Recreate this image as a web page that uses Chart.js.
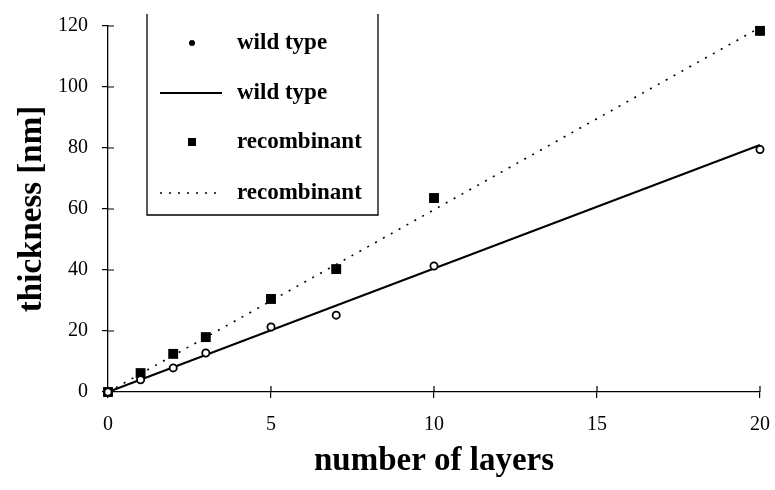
<!DOCTYPE html>
<html>
<head>
<meta charset="utf-8">
<title>thickness vs layers</title>
<script src="https://cdn.jsdelivr.net/npm/chart.js@4.4.1/dist/chart.umd.min.js"></script>
<style>
  html, body { margin: 0; padding: 0; background: #fff; }
  #wrap { width: 775px; height: 490px; }
</style>
</head>
<body>
<div id="wrap"><canvas id="grafico" width="775" height="490"></canvas></div>
<script>
// measured layers and film thickness
const layers = [0, 1, 2, 3, 5, 7, 10, 20];
const wildType = [0, 4, 7.9, 12.8, 21.3, 25.2, 41.3, 79.5];
const recombinant = [0, 6.2, 12.5, 18, 30.5, 40.3, 63.6, 118.4];

// linear fits, evaluated at both ends of the range
const fitLayers = [0, 20];
const wildTypeFit = [0, 81];
const recombinantFit = [0, 119.5];

const xTicks = [0, 5, 10, 15, 20];
const yTicks = [0, 20, 40, 60, 80, 100, 120];

const serif = "'Liberation Serif', 'Times New Roman', serif";

function pares(xs, ys) {
    return xs.map((x, i) => ({ x: x, y: ys[i] }));
}

// small tick marks on the inner side of both axes
const ticksInternos = {
    id: "ticksInternos",
    afterDraw(chart) {
        const ctx = chart.ctx;
        const sx = chart.scales.x;
        const sy = chart.scales.y;
        ctx.save();
        ctx.strokeStyle = "#000";
        ctx.lineWidth = 1.2;
        ctx.beginPath();
        xTicks.forEach(v => {
            if (v === 0) return;
            const px = sx.getPixelForValue(v);
            ctx.moveTo(px, sy.bottom);
            ctx.lineTo(px, sy.bottom - 6);
        });
        yTicks.forEach(v => {
            if (v === 0) return;
            const py = sy.getPixelForValue(v);
            ctx.moveTo(sx.left, py);
            ctx.lineTo(sx.left + 6, py);
        });
        ctx.stroke();
        ctx.restore();
    }
};

// boxed legend inside the plot, one row per dataset
const legendaCaixa = {
    id: "legendaCaixa",
    afterDraw(chart) {
        const ctx = chart.ctx;
        const area = chart.chartArea;
        const x0 = area.left + 39;
        const y0 = area.top - 12;
        const w = 231;
        const h = 201;
        const linhas = [43, 93, 142, 193];

        ctx.save();
        ctx.strokeStyle = "#000";
        ctx.lineWidth = 1.3;
        ctx.beginPath();
        ctx.moveTo(x0, y0);
        ctx.lineTo(x0, y0 + h);
        ctx.lineTo(x0 + w, y0 + h);
        ctx.lineTo(x0 + w, y0);
        ctx.stroke();

        chart.data.datasets.forEach((ds, i) => {
            const cy = linhas[i];
            const cx = x0 + 45;
            if (ds.showLine) {
                ctx.beginPath();
                ctx.lineWidth = ds.borderWidth;
                ctx.setLineDash(ds.borderDash || []);
                ctx.moveTo(x0 + 13, cy);
                ctx.lineTo(x0 + 75, cy);
                ctx.stroke();
                ctx.setLineDash([]);
            } else if (ds.pointStyle === "rect") {
                ctx.fillStyle = "#000";
                ctx.fillRect(cx - 4, cy - 4, 8, 8);
            } else {
                ctx.fillStyle = "#000";
                ctx.beginPath();
                ctx.arc(cx, cy, 3, 0, Math.PI * 2);
                ctx.fill();
            }
            ctx.fillStyle = "#000";
            ctx.font = "bold 23px " + serif;
            ctx.textAlign = "left";
            ctx.textBaseline = "middle";
            ctx.fillText(ds.label, x0 + 90, cy);
        });
        ctx.restore();
    }
};

new Chart(document.getElementById("grafico"), {
    type: "scatter",
    data: {
        datasets: [
            {
                label: "wild type",
                data: pares(layers, wildType),
                pointStyle: "circle",
                pointRadius: 3.6,
                pointBackgroundColor: "#fff",
                pointBorderColor: "#000",
                pointBorderWidth: 1.8,
                showLine: false,
                clip: false
            },
            {
                label: "wild type",
                data: pares(fitLayers, wildTypeFit),
                showLine: true,
                borderColor: "#000",
                borderWidth: 2,
                pointRadius: 0,
                clip: false
            },
            {
                label: "recombinant",
                data: pares(layers, recombinant),
                pointStyle: "rect",
                pointRadius: 7,
                pointBackgroundColor: "#000",
                pointBorderColor: "#000",
                pointBorderWidth: 0,
                showLine: false,
                clip: false
            },
            {
                label: "recombinant",
                data: pares(fitLayers, recombinantFit),
                showLine: true,
                borderColor: "#000",
                borderWidth: 1.6,
                borderDash: [2, 7],
                pointRadius: 0,
                clip: false
            }
        ]
    },
    options: {
        responsive: false,
        animation: false,
        events: [],
        layout: { padding: { top: 26, right: 4, left: 0, bottom: 0 } },
        plugins: {
            legend: { display: false },
            tooltip: { enabled: false }
        },
        scales: {
            x: {
                type: "linear",
                min: 0,
                max: 20,
                afterBuildTicks: scale => { scale.ticks = xTicks.map(v => ({ value: v })); },
                afterFit: scale => {
                    scale.height = 98;
                    scale.paddingRight = 15;
                },
                border: { color: "#000", width: 1.3 },
                grid: { drawOnChartArea: false, drawTicks: true, tickLength: 6, color: "#000", lineWidth: 1.2 },
                ticks: { color: "#000", padding: 15, font: { family: serif, size: 20 } },
                title: {
                    display: true,
                    text: "number of layers",
                    color: "#000",
                    padding: { top: 0, bottom: 9 },
                    font: { family: serif, size: 33, weight: "bold", lineHeight: 1.2 }
                }
            },
            y: {
                type: "linear",
                min: 0,
                max: 120,
                afterBuildTicks: scale => { scale.ticks = yTicks.map(v => ({ value: v })); },
                afterFit: scale => { scale.width = 108; },
                border: { color: "#000", width: 1.3 },
                grid: { drawOnChartArea: false, drawTicks: true, tickLength: 6, color: "#000", lineWidth: 1.2 },
                ticks: { color: "#000", padding: 14, font: { family: serif, size: 20 } },
                title: {
                    display: true,
                    text: "thickness [nm]",
                    color: "#000",
                    padding: { top: 13, bottom: 0 },
                    font: { family: serif, size: 33, weight: "bold", lineHeight: 1.2 }
                }
            }
        }
    },
    plugins: [ticksInternos, legendaCaixa]
});
</script>
</body>
</html>
